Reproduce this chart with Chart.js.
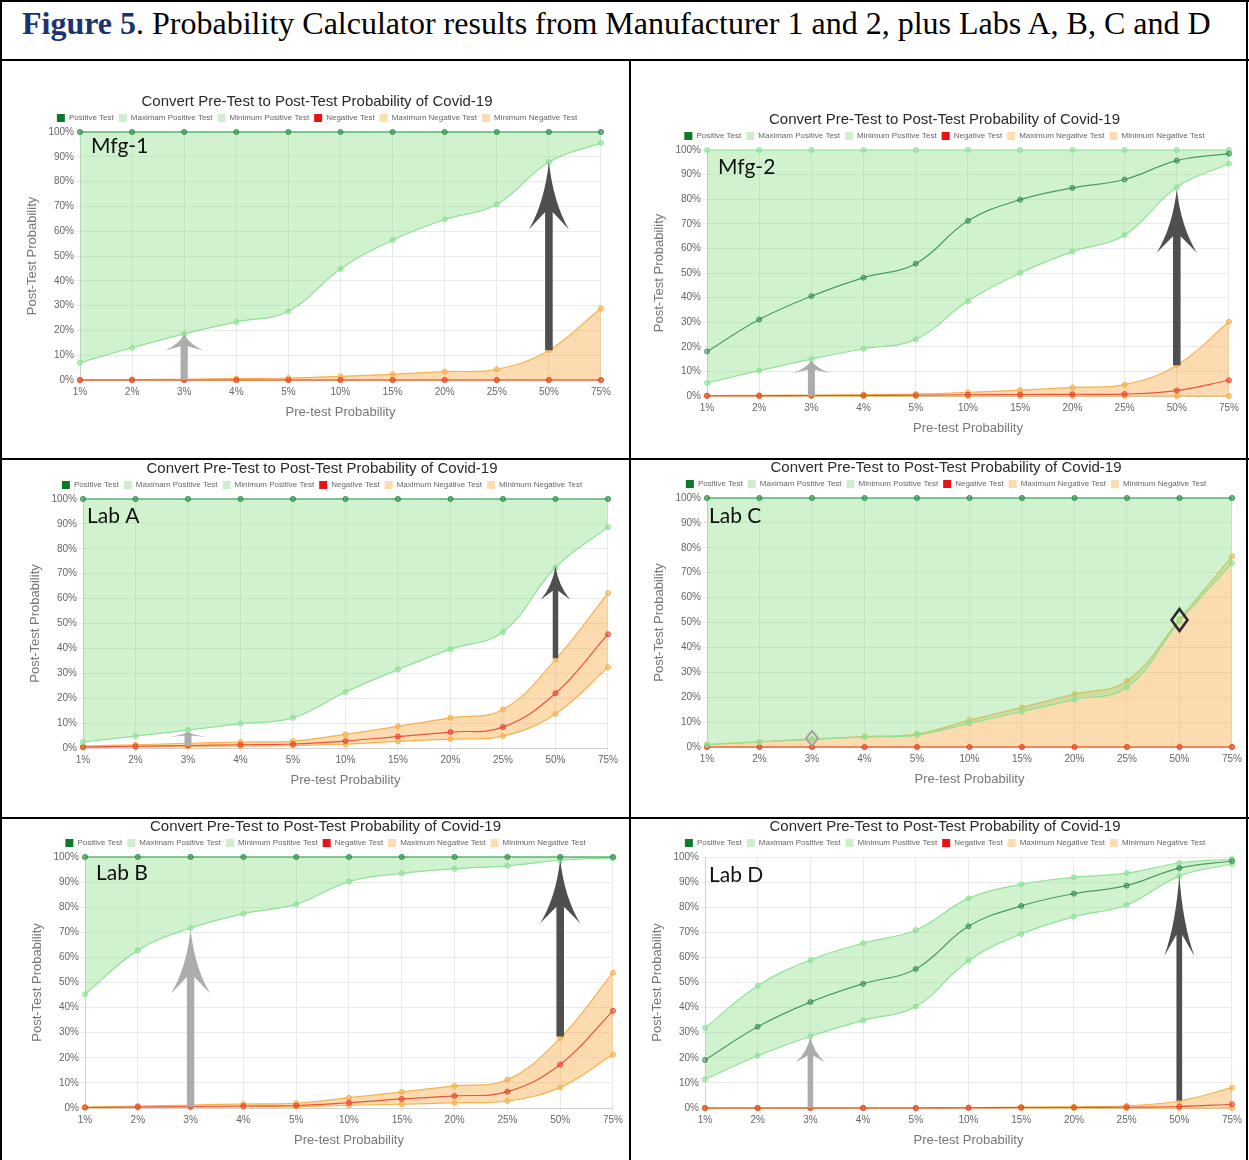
<!DOCTYPE html>
<html>
<head>
<meta charset="utf-8">
<script src="https://cdn.jsdelivr.net/npm/chart.js@4.4.0/dist/chart.umd.min.js"></script>
<style>
  html, body { margin: 0; padding: 0; background: #fff; }
  #page { position: relative; width: 1249px; height: 1160px; overflow: hidden; background: #fff; }
  .rule { position: absolute; background: #000; }
  #fig-title { position: absolute; left: 22px; top: 5px; font-family: "Liberation Serif", serif; font-size: 32px; white-space: nowrap; color: #000; }
  #fig-title b { color: #1b3370; }
  .panel { position: absolute; }
</style>
</head>
<body>
<div id="page">
  <div id="fig-title"><b>Figure 5</b>. Probability Calculator results from Manufacturer 1 and 2, plus Labs A, B, C and D</div>
  <div class="rule" style="left:0;top:0;width:1249px;height:2px"></div>
  <div class="rule" style="left:0;top:0;width:2px;height:1160px"></div>
  <div class="rule" style="left:1246px;top:0;width:2px;height:1160px"></div>
  <div class="rule" style="left:0;top:59px;width:1249px;height:2px"></div>
  <div class="rule" style="left:0;top:458px;width:1249px;height:2px"></div>
  <div class="rule" style="left:0;top:817px;width:1249px;height:2px"></div>
  <div class="rule" style="left:629px;top:60px;width:2px;height:1100px"></div>
</div>
<script>
// x categories (pre-test probability)
const pretest = ['1%', '2%', '3%', '4%', '5%', '10%', '15%', '20%', '25%', '50%', '75%'];
const seriesNames = ['Positive Test', 'Maximam Positive Test', 'Minimum Positive Test',
                     'Negative Test', 'Maximum Negative Test', 'Minimum Negative Test'];

// Mfg-1
const mfg1Pos    = [100, 100, 100, 100, 100, 100, 100, 100, 100, 100, 100];
const mfg1MaxPos = [100, 100, 100, 100, 100, 100, 100, 100, 100, 100, 100];
const mfg1MinPos = [7, 13, 18.6, 23.4, 27.7, 44.8, 56.4, 64.7, 70.8, 87.9, 95.6];
const mfg1Neg    = [0, 0, 0, 0, 0, 0, 0, 0, 0, 0, 0];
const mfg1MaxNeg = [0.1, 0.2, 0.3, 0.6, 0.8, 1.5, 2.3, 3.4, 4.3, 12.0, 28.9];
const mfg1MinNeg = [0, 0, 0, 0, 0, 0, 0, 0, 0, 0, 0];

// Mfg-2
const mfg2Pos    = [18.1, 31.1, 40.6, 48.1, 53.8, 71.2, 79.8, 84.6, 88.0, 95.7, 98.5];
const mfg2MaxPos = [100, 100, 100, 100, 100, 100, 100, 100, 100, 100, 100];
const mfg2MinPos = [5.3, 10.3, 15.0, 19.2, 23.0, 38.6, 50.0, 58.7, 65.4, 84.9, 94.4];
const mfg2Neg    = [0.1, 0.1, 0.2, 0.2, 0.3, 0.5, 0.6, 0.7, 0.8, 2.2, 6.4];
const mfg2MaxNeg = [0.2, 0.3, 0.4, 0.6, 0.8, 1.5, 2.4, 3.5, 4.6, 12.5, 30.2];
const mfg2MinNeg = [0, 0, 0, 0, 0, 0, 0, 0, 0, 0, 0];

// Lab A
const labAPos    = [100, 100, 100, 100, 100, 100, 100, 100, 100, 100, 100];
const labAMaxPos = [100, 100, 100, 100, 100, 100, 100, 100, 100, 100, 100];
const labAMinPos = [2.4, 4.8, 7.2, 9.8, 12.1, 22.5, 31.5, 39.7, 46.6, 72.5, 88.7];
const labANeg    = [0.4, 0.7, 1.0, 1.3, 1.6, 2.8, 4.6, 6.4, 8.4, 22.0, 45.7];
const labAMaxNeg = [0.8, 1.3, 1.9, 2.4, 2.8, 5.5, 8.7, 12.1, 15.5, 35.5, 62.2];
const labAMinNeg = [0.2, 0.4, 0.6, 0.8, 1.0, 1.5, 2.7, 3.6, 4.8, 13.7, 32.4];

// Lab C
const labCPos    = [100, 100, 100, 100, 100, 100, 100, 100, 100, 100, 100];
const labCMaxPos = [100, 100, 100, 100, 100, 100, 100, 100, 100, 100, 100];
const labCMinPos = [0.9, 2.0, 3.1, 4.0, 4.8, 9.5, 14.2, 19.0, 23.9, 50.4, 73.8];
const labCNeg    = [0, 0, 0, 0, 0, 0, 0, 0, 0, 0, 0];
const labCMaxNeg = [1.0, 2.1, 3.2, 4.2, 5.2, 10.8, 15.9, 21.3, 26.5, 51.3, 76.6];
const labCMinNeg = [0, 0, 0, 0, 0, 0, 0, 0, 0, 0, 0];

// Lab B
const labBPos    = [100, 100, 100, 100, 100, 100, 100, 100, 100, 100, 100];
const labBMaxPos = [100, 100, 100, 100, 100, 100, 100, 100, 100, 100, 100];
const labBMinPos = [45.3, 62.8, 71.7, 77.4, 81.2, 90.2, 93.5, 95.3, 96.5, 98.7, 99.6];
const labBNeg    = [0.2, 0.4, 0.6, 0.8, 1.0, 2.1, 3.6, 4.8, 6.5, 17.3, 38.7];
const labBMaxNeg = [0.4, 0.8, 1.2, 1.6, 1.9, 4.1, 6.4, 8.8, 11.3, 27.9, 53.9];
const labBMinNeg = [0.1, 0.2, 0.3, 0.4, 0.5, 1.1, 1.5, 2.1, 2.8, 8.2, 21.3];

// Lab D
const labDPos    = [19.1, 32.4, 42.2, 49.5, 55.4, 72.4, 80.5, 85.4, 88.6, 95.6, 98.4];
const labDMaxPos = [31.9, 48.7, 59.0, 65.7, 70.9, 83.5, 89.1, 91.9, 93.6, 97.6, 99.2];
const labDMinPos = [11.4, 20.8, 28.6, 34.9, 40.4, 58.7, 69.3, 76.2, 80.9, 92.4, 97.2];
const labDNeg    = [0, 0, 0, 0, 0, 0.1, 0.2, 0.2, 0.3, 0.6, 1.5];
const labDMaxNeg = [0, 0, 0.1, 0.1, 0.1, 0.2, 0.4, 0.5, 0.9, 2.8, 8.1];
const labDMinNeg = [0, 0, 0, 0, 0, 0, 0, 0, 0, 0, 0];

// annotations drawn over the charts: [category, from %, to %, kind]
const mfg1Arrows = [['3%', 0, 18.6, 'light'], ['50%', 12, 88, 'dark']];
const mfg2Arrows = [['3%', 0, 14.5, 'light'], ['50%', 12.5, 84, 'dark']];
const labAArrows = [['3%', 0.8, 6.5, 'light'], ['50%', 36, 73, 'dark']];
const labBArrows = [['3%', 0.5, 71, 'light'], ['50%', 28.5, 99, 'dark']];
const labDArrows = [['3%', 0, 28.5, 'light'], ['50%', 3, 93, 'dark']];
// diamonds: [category, value %, kind]
const labCMarks  = [['3%', 3.5, 'light'], ['50%', 51, 'dark']];

const Y_AXIS_W = 59, X_AXIS_H = 44;
const FONT = '"Liberation Sans", Arial, sans-serif';

const panels = [
  { name: 'Mfg-1', series: [mfg1Pos, mfg1MaxPos, mfg1MinPos, mfg1Neg, mfg1MaxNeg, mfg1MinNeg],
    arrows: mfg1Arrows, marks: [], L: 80, R: 601, T: 132, B: 380, tag: [11, 14], headW: [38, 40] },
  { name: 'Mfg-2', series: [mfg2Pos, mfg2MaxPos, mfg2MinPos, mfg2Neg, mfg2MaxNeg, mfg2MinNeg],
    arrows: mfg2Arrows, marks: [], L: 707, R: 1229, T: 150, B: 396, tag: [11, 17], headW: [37, 40] },
  { name: 'Lab A', series: [labAPos, labAMaxPos, labAMinPos, labANeg, labAMaxNeg, labAMinNeg],
    arrows: labAArrows, marks: [], L: 83, R: 608, T: 499, B: 748, tag: [4, 17], headW: [37, 29] },
  { name: 'Lab C', series: [labCPos, labCMaxPos, labCMinPos, labCNeg, labCMaxNeg, labCMinNeg],
    arrows: [], marks: labCMarks, L: 707, R: 1232, T: 498, B: 747, tag: [2, 18], headW: [0, 0] },
  { name: 'Lab B', series: [labBPos, labBMaxPos, labBMinPos, labBNeg, labBMaxNeg, labBMinNeg],
    arrows: labBArrows, marks: [], L: 85, R: 613, T: 857, B: 1108, tag: [11, 16], headW: [39, 40] },
  { name: 'Lab D', series: [labDPos, labDMaxPos, labDMinPos, labDNeg, labDMaxNeg, labDMinNeg],
    arrows: labDArrows, marks: [], L: 705, R: 1232, T: 857, B: 1108, tag: [4, 18], headW: [29, 30] }
];

const seriesStyle = [
  { line: 'rgba(40,135,75,0.8)',  point: 'rgba(40,135,75,0.45)', bg: 'rgba(40,135,75,0.4)',   legend: '#0b7a2a', fill: false },
  { line: '#8fe39a',              point: 'rgba(143,227,154,0.6)', bg: 'rgba(140,222,135,0.4)', legend: '#cdefcb', fill: '+1' },
  { line: '#8fe39a',              point: 'rgba(143,227,154,0.6)', bg: 'rgba(140,222,135,0.4)', legend: '#cdefcb', fill: false },
  { line: 'rgba(232,60,40,0.85)', point: 'rgba(232,60,40,0.5)',  bg: 'rgba(232,60,40,0.4)',   legend: '#ee1111', fill: false },
  { line: '#f5b24e',              point: 'rgba(245,178,78,0.6)',  bg: 'rgba(250,175,80,0.45)', legend: '#fddcb0', fill: '+1' },
  { line: '#f5b24e',              point: 'rgba(245,178,78,0.6)',  bg: 'rgba(250,175,80,0.45)', legend: '#fddcb0', fill: false }
];

const ARROW_COLOR = { light: '#acacac', dark: '#4f4f4f' };

// arrows, diamonds and the panel tag, placed with the chart's own scales
const overlay = {
  id: 'overlay',
  afterDatasetsDraw(chart, args, opts) {
    const p = opts.panel;
    const { ctx, chartArea, scales: { x, y } } = chart;
    ctx.save();
    p.arrows.forEach(([cat, from, to, kind]) => {
      const px = x.getPixelForValue(pretest.indexOf(cat));
      const yb = y.getPixelForValue(from), yt = y.getPixelForValue(to);
      const len = yb - yt;
      const hw = (kind === 'light' ? p.headW[0] : p.headW[1]) / 2;
      const hh = len * 0.36;
      const sw = Math.max(2.5, hw * 0.19);
      ctx.fillStyle = ARROW_COLOR[kind];
      ctx.beginPath();
      ctx.moveTo(px, yt);
      ctx.quadraticCurveTo(px + hw * 0.22, yt + hh * 0.6, px + hw, yt + hh);
      ctx.lineTo(px + sw, yt + hh * 0.74);
      ctx.lineTo(px + sw, yb);
      ctx.lineTo(px - sw, yb);
      ctx.lineTo(px - sw, yt + hh * 0.74);
      ctx.lineTo(px - hw, yt + hh);
      ctx.quadraticCurveTo(px - hw * 0.22, yt + hh * 0.6, px, yt);
      ctx.closePath();
      ctx.fill();
    });
    p.marks.forEach(([cat, val, kind]) => {
      const px = x.getPixelForValue(pretest.indexOf(cat));
      const py = y.getPixelForValue(val);
      const w = kind === 'light' ? 6 : 8, h = kind === 'light' ? 7.5 : 11;
      ctx.strokeStyle = kind === 'light' ? '#a3a3a3' : '#2b2b2b';
      ctx.lineWidth = kind === 'light' ? 2 : 2.6;
      ctx.beginPath();
      ctx.moveTo(px, py - h);
      ctx.lineTo(px + w, py);
      ctx.lineTo(px, py + h);
      ctx.lineTo(px - w, py);
      ctx.closePath();
      ctx.stroke();
    });
    ctx.fillStyle = '#111';
    ctx.font = '21px Lato, "Open Sans", sans-serif';
    ctx.textBaseline = 'middle';
    ctx.fillText(p.name, chartArea.left + p.tag[0], chartArea.top + p.tag[1]);
    ctx.restore();
  }
};

const page = document.getElementById('page');

panels.forEach(p => {
  const box = document.createElement('div');
  box.className = 'panel';
  const cv = document.createElement('canvas');
  cv.width = Y_AXIS_W + (p.R - p.L) + 10;
  cv.height = 340;
  box.appendChild(cv);
  page.appendChild(box);

  const datasets = p.series.map((vals, i) => {
    const s = seriesStyle[i];
    return {
      label: seriesNames[i],
      data: vals,
      borderColor: s.line,
      backgroundColor: s.bg,
      pointBackgroundColor: s.point,
      pointBorderColor: s.line,
      pointRadius: 2.5,
      pointBorderWidth: 1,
      borderWidth: 1.2,
      tension: 0.4,
      fill: s.fill,
      clip: 5
    };
  });

  const chart = new Chart(cv, {
    type: 'line',
    data: { labels: pretest, datasets: datasets },
    options: {
      responsive: false,
      maintainAspectRatio: false,
      animation: false,
      devicePixelRatio: 1,
      layout: { padding: 0 },
      plugins: {
        title: {
          display: true,
          text: 'Convert Pre-Test to Post-Test Probability of Covid-19',
          color: '#2a2a2a',
          font: { family: FONT, size: 15, weight: 'normal' },
          padding: { top: 2, bottom: -2 }
        },
        legend: {
          labels: {
            boxWidth: 8,
            boxHeight: 8,
            padding: 5,
            color: '#666',
            font: { family: FONT, size: 8 },
            generateLabels: ch => Chart.defaults.plugins.legend.labels.generateLabels(ch)
              .map((l, i) => Object.assign(l, { fillStyle: seriesStyle[i].legend, lineWidth: 0, strokeStyle: 'rgba(0,0,0,0)' }))
          }
        },
        tooltip: { enabled: false },
        overlay: { panel: p }
      },
      scales: {
        x: {
          grid: { color: '#e9e9e9', tickLength: 4 },
          ticks: { color: '#666', font: { family: FONT, size: 10 }, padding: 2, maxRotation: 0, autoSkip: false },
          title: { display: true, text: 'Pre-test Probability', color: '#777', font: { family: FONT, size: 13 } },
          afterFit: s => { s.height = X_AXIS_H; }
        },
        y: {
          min: 0,
          max: 100,
          grid: { color: '#e9e9e9', tickLength: 4 },
          ticks: { stepSize: 10, color: '#666', font: { family: FONT, size: 10 }, padding: 2, callback: v => v + '%' },
          title: { display: true, text: 'Post-Test Probability', color: '#777', font: { family: FONT, size: 13 } },
          afterFit: s => { s.width = Y_AXIS_W; }
        }
      }
    },
    plugins: [overlay]
  });

  // size and place the canvas so the plot area sits where the reference has it
  for (let k = 0; k < 3; k++) {
    const ca = chart.chartArea;
    const w = Math.round(ca.left + (p.R - p.L) + (chart.width - ca.right));
    const h = Math.round(ca.top + (p.B - p.T) + (chart.height - ca.bottom));
    chart.resize(w, h);
  }
  const ca = chart.chartArea;
  box.style.left = Math.round(p.L - ca.left) + 'px';
  box.style.top = Math.round(p.T - ca.top) + 'px';
});
</script>
</body>
</html>
